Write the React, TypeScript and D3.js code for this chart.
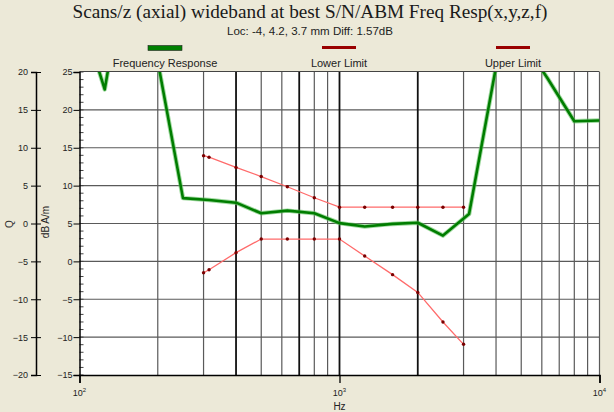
import React, { useEffect, useRef } from "react";
import * as d3 from "d3";

// 1/3 octave response, dB A/m
const respFreq = [100, 125, 160, 200, 250, 315, 400, 500, 630, 800, 1000, 1250, 1600, 2000, 2500, 3150, 4000, 5000, 6300, 8000, 10000];
const respDb = [33.5, 22.7, 44, 26.4, 8.35, 8.1, 7.75, 6.35, 6.7, 6.35, 5.05, 4.6, 4.95, 5.1, 3.4, 6.25, 25.7, 29.4, 24.2, 18.5, 18.6];

const limitFreq = [300, 315, 400, 500, 630, 800, 1000, 1250, 1600, 2000, 2500, 3000];
const lowerDb = [-1.5, -1.1, 1.15, 2.95, 2.95, 2.95, 2.95, 0.7, -1.75, -4.1, -8.0, -10.95];
const upperDb = [13.95, 13.75, 12.4, 11.2, 9.85, 8.4, 7.15, 7.15, 7.15, 7.15, 7.15, 7.15];

const yTicks = [25, 20, 15, 10, 5, 0, -5, -10, -15];
const qTicks = [20, 15, 10, 5, 0, -5, -10, -15, -20];
const decades = [100, 1000, 10000];
const boldFreqs = [400, 700, 1000, 2000];
const legendNames = ["Frequency Response", "Lower Limit", "Upper Limit"];

const W = 614;
const H = 412;
const left = 79.5, right = 599.5, top = 72, bottom = 375;
const sans = "'Liberation Sans', Arial, sans-serif";

export default function App() {
  const ref = useRef<SVGSVGElement>(null);

  useEffect(() => {
    const svg = d3.select(ref.current);
    svg.selectAll("*").remove();

    const x = d3.scaleLog().domain([100, 10000]).range([left, right]);
    const y = d3.scaleLinear().domain([-15, 25]).range([bottom, top]);
    const q = d3.scaleLinear().domain([-20, 20]).range([bottom, top]);

    svg.append("rect").attr("width", W).attr("height", H).attr("fill", "#ECE9D8");
    svg.append("rect")
      .attr("x", left).attr("y", top)
      .attr("width", right - left).attr("height", bottom - top)
      .attr("fill", "#fff");

    svg.append("defs").append("clipPath").attr("id", "plot")
      .append("rect")
      .attr("x", left).attr("y", top)
      .attr("width", right - left).attr("height", bottom - top);

    // grid
    const grid = svg.append("g");
    grid.selectAll("line.h")
      .data(yTicks.slice(1, -1))
      .enter().append("line")
      .attr("x1", left).attr("x2", right)
      .attr("y1", d => y(d)).attr("y2", d => y(d))
      .attr("stroke", "#5a5a5a").attr("stroke-width", 1.2);

    const vx = x.ticks().filter(f => f > 100);
    grid.selectAll("line.v")
      .data(vx)
      .enter().append("line")
      .attr("x1", d => x(d)).attr("x2", d => x(d))
      .attr("y1", top).attr("y2", bottom)
      .attr("stroke", d => boldFreqs.includes(d) ? "#111" : "#5a5a5a")
      .attr("stroke-width", d => boldFreqs.includes(d) ? 1.8 : 1.2);

    // top border
    svg.append("line")
      .attr("x1", left).attr("x2", right).attr("y1", top - 0.5).attr("y2", top - 0.5)
      .attr("stroke", "#444").attr("stroke-width", 1.2);

    // minor ticks inside left edge
    svg.append("g").selectAll("line")
      .data(d3.range(-15, 26, 1))
      .enter().append("line")
      .attr("x1", left).attr("x2", left + 4)
      .attr("y1", d => y(d)).attr("y2", d => y(d))
      .attr("stroke", "#444").attr("stroke-width", 1);

    // limits
    const limLine = d3.line<number>()
      .x((d, i) => x(limitFreq[i]))
      .y(d => y(d));

    [lowerDb, upperDb].forEach(vals => {
      const g = svg.append("g").attr("clip-path", "url(#plot)");
      g.append("path")
        .attr("d", limLine(vals))
        .attr("fill", "none")
        .attr("stroke", "#ff6b6b")
        .attr("stroke-width", 1.3);
      g.selectAll("circle")
        .data(vals)
        .enter().append("circle")
        .attr("cx", (d, i) => x(limitFreq[i]))
        .attr("cy", d => y(d))
        .attr("r", 1.7)
        .attr("fill", "#7a0000");
    });

    // response
    const respLine = d3.line<number>()
      .x((d, i) => x(respFreq[i]))
      .y(d => y(d));
    const rg = svg.append("g").attr("clip-path", "url(#plot)");
    rg.append("path")
      .attr("d", respLine(respDb))
      .attr("fill", "none")
      .attr("stroke", "#5fbf5f")
      .attr("stroke-opacity", 0.6)
      .attr("stroke-width", 4.5)
      .attr("stroke-linejoin", "round");
    rg.append("path")
      .attr("d", respLine(respDb))
      .attr("fill", "none")
      .attr("stroke", "#007d00")
      .attr("stroke-width", 2.6)
      .attr("stroke-linejoin", "round");

    // inner y axis
    const yAxis = svg.append("g")
      .attr("transform", `translate(${left},0)`)
      .call(d3.axisLeft(y).tickValues(yTicks).tickSize(6).tickPadding(1).tickFormat(d3.format("d")));
    yAxis.select(".domain").attr("stroke", "#000").attr("stroke-width", 1.5);
    yAxis.selectAll("text").attr("font-family", sans).attr("font-size", 9).attr("fill", "#222");

    // outer axis
    const qAxis = svg.append("g")
      .attr("transform", "translate(36,0)")
      .call(d3.axisLeft(q).tickValues(qTicks).tickSize(5).tickPadding(3).tickFormat(d3.format("d")));
    qAxis.select(".domain").attr("stroke", "#000").attr("stroke-width", 1.5);
    qAxis.selectAll(".tick line").attr("x1", 5).attr("x2", -5);
    qAxis.selectAll("text").attr("font-family", sans).attr("font-size", 9).attr("fill", "#222");

    // x axis
    const xAxis = svg.append("g")
      .attr("transform", `translate(0,${bottom})`)
      .call(d3.axisBottom(x).tickValues(decades).tickSize(8).tickFormat(() => ""));
    xAxis.select(".domain").attr("stroke", "#000").attr("stroke-width", 1.5);
    xAxis.selectAll(".tick line").attr("stroke-width", 1.3);

    const xl = svg.append("g").selectAll("text")
      .data(decades)
      .enter().append("text")
      .attr("x", d => x(d))
      .attr("y", 396)
      .attr("text-anchor", "middle")
      .attr("font-family", sans)
      .attr("font-size", 9)
      .attr("fill", "#222");
    xl.append("tspan").text("10");
    xl.append("tspan").attr("dy", -4).attr("font-size", 6).text(d => String(Math.round(Math.log10(d))));

    svg.append("text")
      .attr("x", x(1000)).attr("y", 410)
      .attr("text-anchor", "middle")
      .attr("font-family", sans).attr("font-size", 10).attr("fill", "#222")
      .text("Hz");

    svg.append("text")
      .attr("transform", "translate(49,222) rotate(-90)")
      .attr("text-anchor", "middle")
      .attr("font-family", sans).attr("font-size", 10).attr("fill", "#222")
      .text("dB A/m");

    svg.append("text")
      .attr("transform", "translate(13,224) rotate(-90)")
      .attr("text-anchor", "middle")
      .attr("font-family", sans).attr("font-size", 10).attr("fill", "#333")
      .text("Q");

    // titles
    svg.append("text")
      .attr("x", 310).attr("y", 18)
      .attr("text-anchor", "middle")
      .attr("font-family", "'Liberation Serif', 'Times New Roman', serif")
      .attr("font-size", 18)
      .attr("textLength", 475)
      .attr("lengthAdjust", "spacingAndGlyphs")
      .attr("fill", "#1a1a1a")
      .text("Scans/z (axial) wideband at best S/N/ABM Freq Resp(x,y,z,f)");

    svg.append("text")
      .attr("x", 310).attr("y", 35)
      .attr("text-anchor", "middle")
      .attr("font-family", sans).attr("font-size", 10.5).attr("fill", "#222")
      .attr("textLength", 166)
      .attr("lengthAdjust", "spacingAndGlyphs")
      .text("Loc: -4, 4.2, 3.7 mm Diff: 1.57dB");

    // legend
    const legCenters = [165, 339, 513];
    const leg = svg.append("g").selectAll("g")
      .data(legendNames)
      .enter().append("g")
      .attr("transform", (d, i) => `translate(${legCenters[i]},0)`);
    leg.append("rect")
      .attr("x", -17).attr("width", 34)
      .attr("y", (d, i) => i === 0 ? 45.5 : 46)
      .attr("height", (d, i) => i === 0 ? 5 : 3)
      .attr("fill", (d, i) => i === 0 ? "#008000" : "#990000")
      .attr("stroke", (d, i) => i === 0 ? "#222" : "none")
      .attr("stroke-width", 0.6);
    leg.append("text")
      .attr("y", 67)
      .attr("text-anchor", "middle")
      .attr("font-family", sans).attr("font-size", 11).attr("fill", "#222")
      .text(d => d);
  }, []);

  return (
    <svg
      ref={ref}
      width={W}
      height={H}
      style={{ position: "absolute", left: 0, top: 0, display: "block" }}
    />
  );
}
